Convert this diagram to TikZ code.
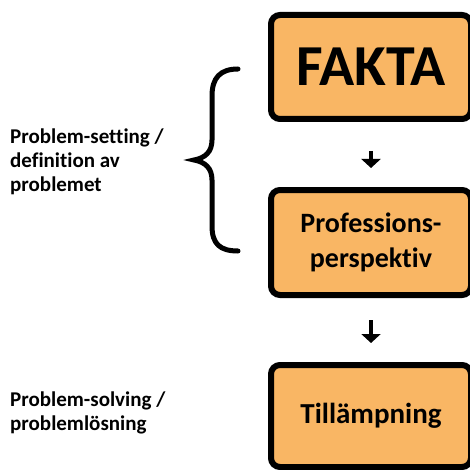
\documentclass[tikz,border=0pt]{standalone}
\usepackage{fontspec}
\setmainfont{Carlito}[Ligatures=NoCommon]
\usetikzlibrary{arrows.meta,positioning}
\definecolor{boxorange}{RGB}{249,182,100}

\begin{document}
\begin{tikzpicture}[x=1pt,y=-1pt,
    box/.style={draw=black,line width=6pt,fill=boxorange,rounded corners=9pt,
      minimum width=200pt,align=center,font=\bfseries},
    flow/.style={-{Triangle[width=19pt,length=9pt]},line width=4.5pt},
    side/.style={align=left,inner sep=0pt,anchor=west,
      font=\bfseries\fontsize{21}{24}\selectfont}]
    \useasboundingbox (0,0) rectangle (469,470);
    % boxes
    \node[box,minimum height=104pt,font=\bfseries\fontsize{58}{60}\selectfont] (fakta) at (371,67) {FAKTA};
    \node[box,minimum height=105pt,font=\bfseries\fontsize{28}{35}\selectfont] (prof) at (371,242.5) {Professions-\\perspektiv};
    \node[box,minimum height=102pt,font=\bfseries\fontsize{29}{30}\selectfont] (till) at (371,416) {Tillämpning};
    % arrows
    \draw[flow,shorten <=29pt,shorten >=19pt] (fakta.south) -- (prof.north);
    \draw[flow,shorten <=22pt,shorten >=19pt] (prof.south) -- (till.north);
    % brace
    \draw[line width=5pt,line cap=round] (238,69) .. controls (220,69) and (212,78) .. (212,96)
      -- (212,140) .. controls (212,152) and (205,158) .. (194,160)
      .. controls (205,162) and (212,168) .. (212,180)
      -- (212,226) .. controls (212,244) and (220,251) .. (238,251);
    % labels
    \node[side] (setting) at (10,162) {Problem-setting /\\definition av\\problemet};
    \node[side] (solving) at (10,413) {Problem-solving /\\problemlösning};
\end{tikzpicture}
\end{document}
